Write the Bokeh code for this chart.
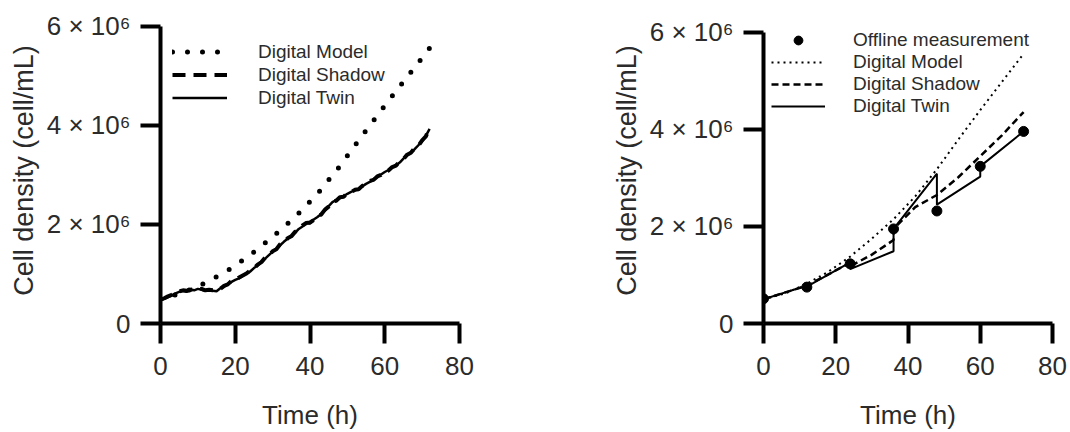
from bokeh.plotting import figure
from bokeh.layouts import row
from bokeh.models import Range1d, FixedTicker, Legend, LegendItem
from bokeh.embed import file_html
from bokeh.resources import INLINE

FONT = "Liberation Sans"
TXT = "#2b2b2b"

# ---------------- data (cell density in 10^6 cells/mL) ----------------
x_ticks = [0, 20, 40, 60, 80]
y_ticks = [0, 2e6, 4e6, 6e6]
y_tick_labels = ["0", "2 × 10⁶", "4 × 10⁶", "6 × 10⁶"]

# Digital model (same in both panels)
model_t = [0, 6, 12, 18, 24, 30, 36, 42, 48, 54, 60, 66, 72]
model_y = [0.50, 0.62, 0.82, 1.07, 1.38, 1.75, 2.15, 2.62, 3.18, 3.80, 4.40, 4.98, 5.56]

# Left panel: online (hourly) digital shadow / digital twin
left_t = list(range(0, 73))
left_twin = [0.47, 0.50, 0.53, 0.57, 0.61, 0.64, 0.66, 0.64, 0.69, 0.67,
             0.70, 0.68, 0.66, 0.69, 0.66, 0.65, 0.71, 0.74, 0.80, 0.84,
             0.88, 0.91, 0.96, 1.02, 1.05, 1.12, 1.17, 1.25, 1.31, 1.38,
             1.45, 1.51, 1.58, 1.65, 1.71, 1.77, 1.83, 1.91, 1.96, 2.04,
             2.02, 2.10, 2.15, 2.21, 2.28, 2.37, 2.45, 2.49, 2.53, 2.57,
             2.62, 2.66, 2.69, 2.72, 2.77, 2.82, 2.86, 2.91, 2.96, 3.01,
             3.06, 3.10, 3.15, 3.20, 3.25, 3.33, 3.40, 3.46, 3.52, 3.60,
             3.68, 3.79, 3.93]
left_shadow = [0.48, 0.51, 0.55, 0.58, 0.62, 0.65, 0.67, 0.66, 0.68, 0.69,
               0.69, 0.70, 0.67, 0.68, 0.67, 0.67, 0.70, 0.76, 0.79, 0.86,
               0.87, 0.93, 0.97, 1.01, 1.07, 1.11, 1.19, 1.24, 1.33, 1.37,
               1.46, 1.50, 1.60, 1.64, 1.72, 1.76, 1.85, 1.90, 1.98, 2.03,
               2.04, 2.09, 2.17, 2.20, 2.30, 2.36, 2.46, 2.48, 2.55, 2.56,
               2.63, 2.65, 2.70, 2.71, 2.78, 2.81, 2.88, 2.90, 2.97, 3.00,
               3.07, 3.09, 3.16, 3.19, 3.27, 3.32, 3.41, 3.45, 3.54, 3.59,
               3.70, 3.78, 3.95]

# Right panel: offline measurements every 12 h
meas_t = [0, 12, 24, 36, 48, 60, 72]
meas_y = [0.51, 0.75, 1.23, 1.95, 2.32, 3.24, 3.96]

# Digital shadow (right)
shadow_t = [0, 12, 24, 24, 30, 36, 36, 42, 48, 54, 60, 66, 72]
shadow_y = [0.50, 0.78, 1.25, 1.18, 1.42, 1.72, 1.95, 2.40, 2.65, 3.02, 3.45, 3.88, 4.36]

# Digital twin (right)
twin_t = [0, 12, 12, 24, 24, 36, 36, 48, 48, 60, 60, 72]
twin_y = [0.50, 0.78, 0.76, 1.26, 1.12, 1.49, 1.95, 3.09, 2.45, 3.03, 3.24, 3.96]

M = 1e6
sc = lambda arr: [v * M for v in arr]


def make_fig(width, ymax, min_left, min_right):
    p = figure(width=width, height=432, x_range=Range1d(0, 80), y_range=Range1d(0, ymax),
               output_backend="svg", toolbar_location=None,
               min_border_left=min_left, min_border_top=17,
               min_border_right=min_right, min_border_bottom=109)
    p.outline_line_color = None
    p.grid.visible = False
    p.background_fill_color = "white"
    p.border_fill_color = "white"
    for ax in (p.xaxis[0], p.yaxis[0]):
        ax.axis_line_width = 4
        ax.axis_line_color = "black"
        ax.major_tick_line_width = 4
        ax.major_tick_line_color = "black"
        ax.major_tick_out = 20
        ax.major_tick_in = 0
        ax.minor_tick_line_color = None
        ax.major_label_text_font = FONT
        ax.major_label_text_font_size = "26px"
        ax.major_label_text_color = TXT
        ax.axis_label_text_font = FONT
        ax.axis_label_text_font_style = "normal"
        ax.axis_label_text_color = TXT
    p.xaxis.axis_label_text_font_size = "26px"
    p.yaxis.axis_label_text_font_size = "27px"
    p.xaxis.ticker = FixedTicker(ticks=x_ticks)
    p.yaxis.ticker = FixedTicker(ticks=y_ticks)
    p.yaxis.bounds = (0, 6e6)
    p.yaxis.major_label_overrides = {t: l for t, l in zip(y_ticks, y_tick_labels)}
    p.xaxis.axis_label = "Time (h)"
    p.yaxis.axis_label = "Cell density (cell/mL)"
    p.xaxis.major_label_standoff = 13
    p.yaxis.major_label_standoff = 10
    p.xaxis.axis_label_standoff = 22
    p.yaxis.axis_label_standoff = 5
    return p


# ---------------- left panel ----------------
p1 = make_fig(608, 6.18e6, 160, 149)
r_m1 = p1.line(model_t, sc(model_y), line_width=5, line_dash="0 15", line_cap="round", color="black")
r_s1 = p1.line(left_t, sc(left_shadow), line_width=4, line_dash="13 8", color="black")
r_t1 = p1.line(left_t, sc(left_twin), line_width=2.5, color="black")
leg1 = Legend(items=[LegendItem(label="Digital Model", renderers=[r_m1]),
                     LegendItem(label="Digital Shadow", renderers=[r_s1]),
                     LegendItem(label="Digital Twin", renderers=[r_t1])],
              location=(12, 214), padding=5, margin=0, spacing=0,
              label_height=23, glyph_height=23, glyph_width=55, label_standoff=31,
              label_text_font=FONT, label_text_font_size="19px", label_text_color=TXT,
              border_line_color=None, background_fill_alpha=0)
p1.add_layout(leg1)

# ---------------- right panel ----------------
p2 = make_fig(462, 6.309e6, 152, 18)
r_m2 = p2.line(model_t, sc(model_y), line_width=2, line_dash="2 4", color="black")
r_s2 = p2.line(shadow_t, sc(shadow_y), line_width=2.5, line_dash="7 4", color="black")
r_t2 = p2.line(twin_t, sc(twin_y), line_width=2, color="black")
r_o2 = p2.scatter(meas_t, sc(meas_y), size=10, color="black")
leg2 = Legend(items=[LegendItem(label="Offline measurement", renderers=[r_o2]),
                     LegendItem(label="Digital Model", renderers=[r_m2]),
                     LegendItem(label="Digital Shadow", renderers=[r_s2]),
                     LegendItem(label="Digital Twin", renderers=[r_t2])],
              location=(8, 206), padding=5, margin=0, spacing=0,
              label_height=22, glyph_height=22, glyph_width=54, label_standoff=28,
              label_text_font=FONT, label_text_font_size="19px", label_text_color=TXT,
              border_line_color=None, background_fill_alpha=0)
p2.add_layout(leg2)

layout = row(p1, p2)
open("out.html", "w").write(file_html(layout, INLINE))
